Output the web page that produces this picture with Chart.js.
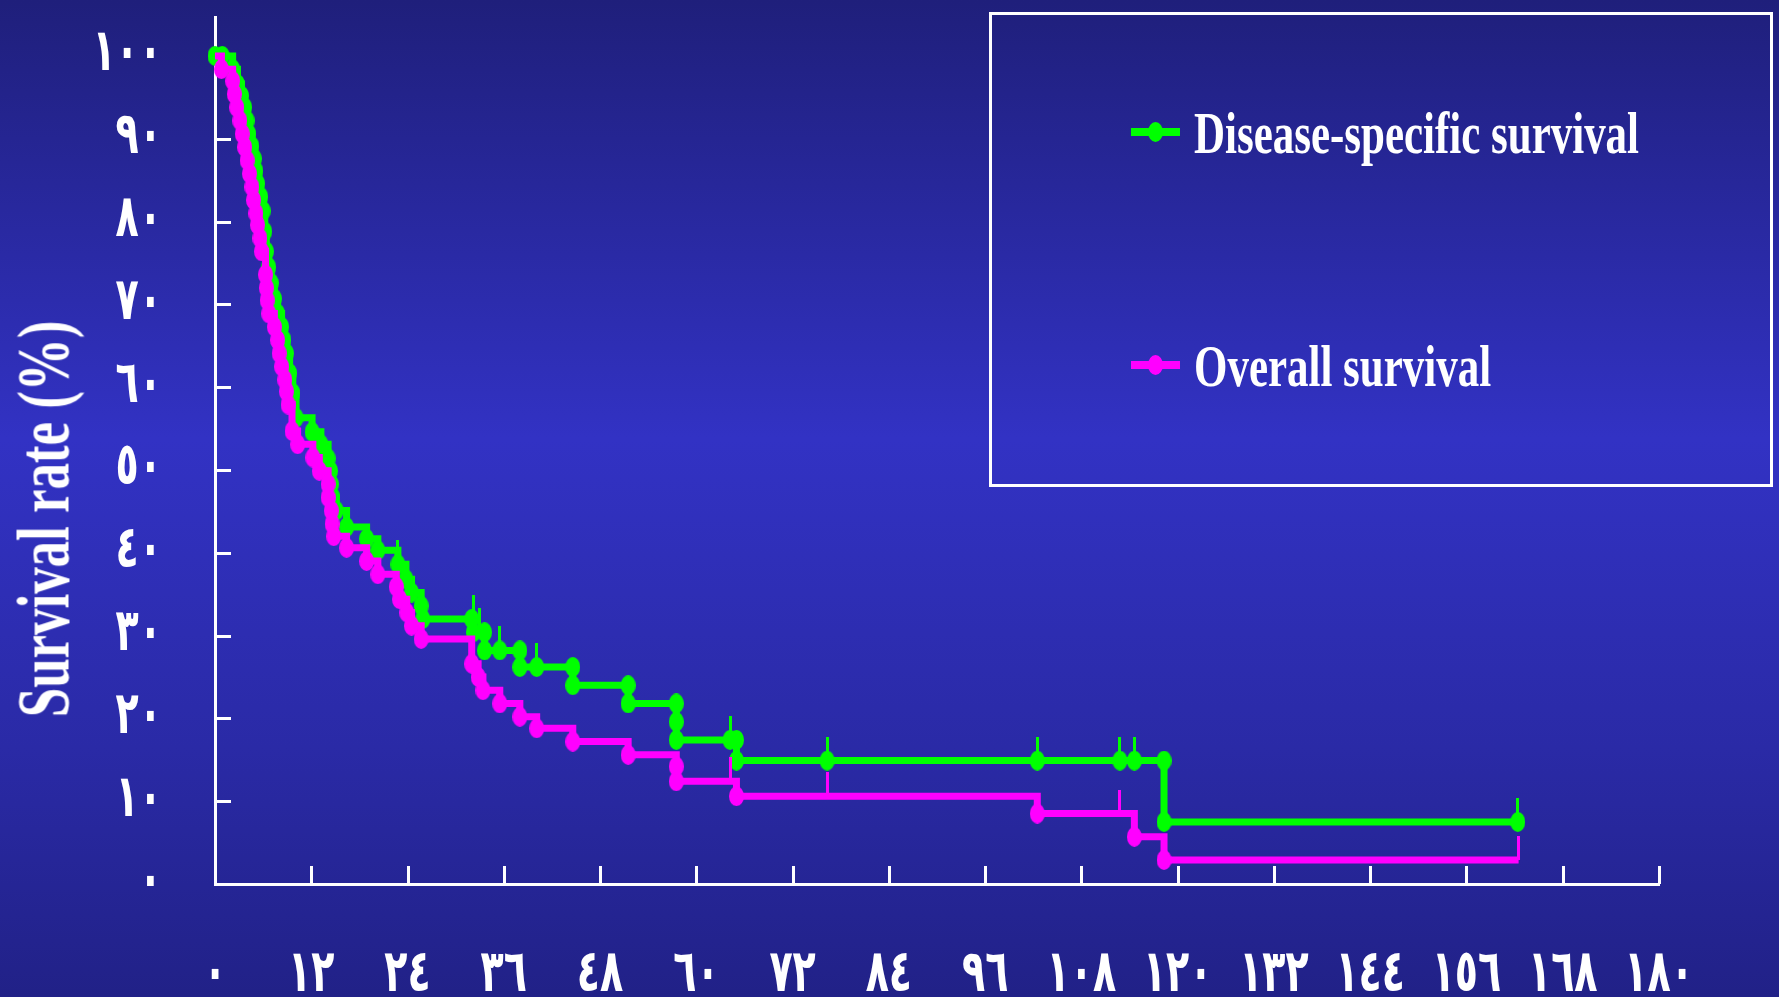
<!DOCTYPE html>
<html lang="en">

<head>
    <meta charset="UTF-8">
    <meta name="viewport" content="width=device-width, initial-scale=1.0">
    <title>Survival rate</title>
    <script src="https://cdn.jsdelivr.net/npm/chart.js"></script>

    <style>
        body {
            margin: 0;
            overflow: hidden;
        }

        .slide {
            position: relative;
            width: 1779px;
            height: 997px;
            background: linear-gradient(to bottom, #1f1f7b 0%, #3232c4 44%, #2a2aa6 75%, #212187 100%);
            font-family: 'Liberation Serif', serif;
            color: white;
        }

        #myCanvas {
            position: absolute;
            left: 0;
            top: 0;
        }

        .titulo-y {
            position: absolute;
            left: 43px;
            top: 519px;
            font-size: 75px;
            line-height: 75px;
            font-weight: bold;
            white-space: nowrap;
            transform: translate(-50%, -50%) rotate(-90deg) scaleX(0.705);
        }

        .legenda-box {
            position: absolute;
            left: 989px;
            top: 12px;
            width: 784px;
            height: 475px;
            border: 3px solid white;
            box-sizing: border-box;
        }

        .legenda-linha {
            position: absolute;
            left: 1131px;
            width: 49px;
            height: 8px;
        }

        .legenda-ponto {
            position: absolute;
            left: 1148px;
            width: 15px;
            height: 20px;
            border-radius: 50%;
        }

        .legenda-texto {
            position: absolute;
            left: 1194px;
            font-size: 60px;
            line-height: 60px;
            font-weight: bold;
            white-space: nowrap;
            transform: scaleX(0.716);
            transform-origin: left center;
        }
    </style>
</head>

<body>
    <div class="slide" id="slide">
        <canvas id="myCanvas" width="1779" height="997"></canvas>
        <div class="titulo-y">Survival rate (%)</div>
        <div class="legenda-box"></div>
    </div>

    <script>
        // eixos (meses / %), rótulos em algarismos arábicos-índicos
        const monthTicks = [0, 12, 24, 36, 48, 60, 72, 84, 96, 108, 120, 132, 144, 156, 168, 180];
        const monthLabels = ["٠", "١٢", "٢٤", "٣٦", "٤٨", "٦٠", "٧٢", "٨٤", "٩٦", "١٠٨", "١٢٠", "١٣٢", "١٤٤", "١٥٦", "١٦٨", "١٨٠"];
        const rateTicks = [0, 10, 20, 30, 40, 50, 60, 70, 80, 90, 100];
        const rateLabels = ["٠", "١٠", "٢٠", "٣٠", "٤٠", "٥٠", "٦٠", "٧٠", "٨٠", "٩٠", "١٠٠"];

        const seriesNames = ["Disease-specific survival", "Overall survival"];

        // Disease-specific survival
        const dssMonths = [0, 0.9, 2.2, 2.8, 3.3, 3.7, 4.0, 4.2, 4.6, 4.9, 5.1, 5.3, 5.7, 6.0, 6.2, 6.4, 6.7, 7.0, 7.4, 7.8,
            8.3, 8.6, 8.9, 9.3, 9.7, 10.1, 12.1, 13.2, 14.1, 14.4, 14.5, 14.7, 15.1, 16.4, 18.9, 20.3, 22.8, 23.8, 24.5, 25.7,
            25.9, 32.0, 32.2, 33.6, 33.6, 35.5, 38.0, 38.0, 40.1, 44.6, 44.6, 51.5, 51.5, 57.5, 57.5, 57.5, 64.2, 65.0, 65.0, 76.3,
            102.5, 112.8, 114.6, 118.3, 118.3, 162.4];
        const dssRate = [100, 100, 98.4, 96.6, 95.2, 93.8, 92.2, 90.6, 89.1, 87.6, 86.1, 84.6, 83.0, 81.3, 78.8, 76.4, 74.5, 72.6, 70.7, 68.9,
            67.3, 65.7, 64.1, 61.7, 59.3, 56.3, 54.6, 53.1, 51.4, 49.9, 48.3, 46.7, 45.1, 43.1, 41.7, 40.3, 38.6, 36.8, 35.2, 33.6,
            32.0, 32.0, 30.4, 30.4, 28.2, 28.2, 28.2, 26.2, 26.2, 26.2, 24.0, 24.0, 21.8, 21.8, 19.6, 17.4, 17.4, 17.4, 14.9, 14.9,
            14.9, 14.9, 14.9, 14.9, 7.5, 7.5];
        const dssCensorMonths = [22.8, 32.2, 33.0, 35.5, 40.1, 64.2, 76.3, 102.5, 112.8, 114.6, 162.4];
        const dssCensorRate = [38.6, 32.0, 30.4, 28.2, 26.2, 17.4, 14.9, 14.9, 14.9, 14.9, 7.5];

        // Overall survival
        const osMonths = [0, 0.8, 2.2, 2.4, 2.7, 3.1, 3.4, 3.7, 4.0, 4.3, 4.6, 4.8, 5.1, 5.3, 5.6, 5.8, 6.3, 6.4, 6.5, 6.7,
            7.4, 7.8, 8.0, 8.3, 8.7, 8.9, 9.1, 9.6, 10.3, 12.2, 13.0, 14.1, 14.1, 14.5, 14.6, 14.8, 16.4, 18.9, 20.3, 22.6,
            23.0, 23.9, 24.5, 25.7, 32.0, 32.8, 33.4, 35.5, 38.0, 40.1, 44.6, 51.5, 57.5, 57.5, 65.0, 102.5, 114.6, 118.3, 162.5];
        const osRate = [100, 98.4, 97.0, 95.4, 93.8, 92.2, 90.6, 89.0, 87.4, 85.8, 84.2, 82.6, 81.0, 79.6, 78.0, 76.4, 73.6, 72.0, 70.5, 68.9,
            67.3, 65.7, 64.1, 62.5, 60.9, 59.5, 57.9, 54.7, 53.1, 51.5, 49.9, 48.3, 46.7, 45.1, 43.5, 42.0, 40.6, 39.0, 37.4, 35.9,
            34.4, 32.8, 31.2, 29.6, 26.6, 25.0, 23.4, 21.8, 20.2, 18.8, 17.2, 15.6, 14.2, 12.4, 10.6, 8.5, 5.7, 2.9, 2.9];
        const osCensorMonths = [64.2, 76.3, 112.8, 162.5];
        const osCensorRate = [12.4, 10.6, 8.5, 2.9];

        const verde = "#00ff00";
        const magenta = "#ff00ff";

        let myChart;

        function pares(xs, ys) {
            return xs.map(function (x, i) {
                return { x: x, y: ys[i] };
            });
        }

        // marcador elíptico (mais alto que largo, como no slide)
        function pontoElipse(cor) {
            const c = document.createElement("canvas");
            c.width = 15;
            c.height = 20;
            const g = c.getContext("2d");
            g.fillStyle = cor;
            g.beginPath();
            g.ellipse(7.5, 10, 7.5, 10, 0, 0, 2 * Math.PI);
            g.fill();
            return c;
        }

        // traço de censura: só a metade de cima
        function marcaCensura(cor) {
            const c = document.createElement("canvas");
            c.width = 3;
            c.height = 48;
            const g = c.getContext("2d");
            g.fillStyle = cor;
            g.fillRect(0, 0, 3, 24);
            return c;
        }

        // tracinhos para dentro nos eixos
        const ticksInternos = {
            id: "ticksInternos",
            beforeDatasetsDraw(chart) {
                const ctx = chart.ctx;
                const area = chart.chartArea;
                ctx.save();
                ctx.strokeStyle = "white";
                ctx.lineWidth = 3;
                ctx.beginPath();
                chart.scales.y.ticks.forEach(function (t) {
                    if (t.value === 0) return;
                    const y = Math.round(chart.scales.y.getPixelForValue(t.value)) + 0.5;
                    ctx.moveTo(area.left, y);
                    ctx.lineTo(area.left + 16, y);
                });
                chart.scales.x.ticks.forEach(function (t) {
                    if (t.value === 0) return;
                    const x = Math.round(chart.scales.x.getPixelForValue(t.value)) + 0.5;
                    ctx.moveTo(x, area.bottom);
                    ctx.lineTo(x, area.bottom - 18);
                });
                ctx.stroke();
                ctx.restore();
            }
        };

        // rótulos dos ticks: algarismos altos e estreitos como no slide
        const rotulosEixos = {
            id: "rotulosEixos",
            afterDraw(chart) {
                const ctx = chart.ctx;
                const area = chart.chartArea;
                const esticar = 1.55;
                ctx.save();
                ctx.fillStyle = "white";
                ctx.font = "bold 38px 'DejaVu Sans'";
                const m = ctx.measureText("١");
                const meio = (m.actualBoundingBoxAscent - m.actualBoundingBoxDescent) / 2;

                ctx.textAlign = "right";
                chart.scales.y.ticks.forEach(function (t, i) {
                    const y = chart.scales.y.getPixelForValue(t.value) - 5;
                    ctx.save();
                    ctx.translate(area.left - 53, y);
                    ctx.scale(1, esticar);
                    ctx.fillText(t.label || rateLabels[i], 0, meio);
                    ctx.restore();
                });

                ctx.textAlign = "center";
                chart.scales.x.ticks.forEach(function (t, i) {
                    const x = chart.scales.x.getPixelForValue(t.value);
                    ctx.save();
                    ctx.translate(x, area.bottom + 88);
                    ctx.scale(1, esticar);
                    ctx.fillText(t.label || monthLabels[i], 0, meio);
                    ctx.restore();
                });
                ctx.restore();
            }
        };

        function plotarGrafico() {
            const dados = {
                datasets: [
                    {
                        label: seriesNames[0],
                        data: pares(dssMonths, dssRate),
                        borderColor: verde,
                        backgroundColor: verde,
                        borderWidth: 7,
                        stepped: "before",
                        borderJoinStyle: "miter",
                        pointStyle: pontoElipse(verde),
                        pointRadius: 10,
                        order: 2,
                    },
                    {
                        label: seriesNames[1],
                        data: pares(osMonths, osRate),
                        borderColor: magenta,
                        backgroundColor: magenta,
                        borderWidth: 7,
                        stepped: "before",
                        borderJoinStyle: "miter",
                        pointStyle: pontoElipse(magenta),
                        pointRadius: function (context) {
                            const i = context.dataIndex;
                            return (i === 0 || i === osMonths.length - 1) ? 0 : 10;
                        },
                        order: 1,
                    },
                    {
                        data: pares(dssCensorMonths, dssCensorRate),
                        showLine: false,
                        pointStyle: marcaCensura(verde),
                        pointRadius: 10,
                        order: 0,
                    },
                    {
                        data: pares(osCensorMonths, osCensorRate),
                        showLine: false,
                        pointStyle: marcaCensura(magenta),
                        pointRadius: 10,
                        order: 0,
                    },
                ],
            };

            const config = {
                type: "line",
                data: dados,
                options: {
                    responsive: false,
                    devicePixelRatio: 1,
                    animation: false,
                    events: [],
                    clip: false,
                    layout: {
                        padding: { top: 9, right: 120, left: 0, bottom: 0 },
                    },
                    scales: {
                        x: {
                            type: "linear",
                            min: 0,
                            max: 180,
                            afterBuildTicks: function (axis) {
                                axis.ticks = monthTicks.map(function (v) { return { value: v }; });
                            },
                            afterFit: function (axis) {
                                axis.height = 113;
                                axis.paddingLeft = 0;
                                axis.paddingRight = 0;
                            },
                            grid: { display: false, drawTicks: false },
                            border: { display: true, color: "white", width: 3 },
                            ticks: {
                                display: false,
                                autoSkip: false,
                                callback: function (value, index) {
                                    return monthLabels[index];
                                },
                            },
                        },
                        y: {
                            min: 0,
                            max: 104.7,
                            afterBuildTicks: function (axis) {
                                axis.ticks = rateTicks.map(function (v) { return { value: v }; });
                            },
                            afterFit: function (axis) {
                                axis.width = 215;
                                axis.paddingTop = 0;
                                axis.paddingBottom = 0;
                            },
                            grid: { display: false, drawTicks: false },
                            border: { display: true, color: "white", width: 3 },
                            ticks: {
                                display: false,
                                autoSkip: false,
                                callback: function (value, index) {
                                    return rateLabels[index];
                                },
                            },
                        },
                    },
                    plugins: {
                        legend: { display: false },
                        tooltip: { enabled: false },
                    },
                },
                plugins: [ticksInternos, rotulosEixos],
            };

            myChart = new Chart(document.getElementById("myCanvas"), config);
            montarLegenda();
        }

        // legenda em HTML, a partir dos datasets do gráfico
        function montarLegenda() {
            const slide = document.getElementById("slide");
            const centros = [132, 365];
            myChart.data.datasets.forEach(function (ds, i) {
                if (!ds.label) return;
                const cy = centros[i];

                const linha = document.createElement("div");
                linha.className = "legenda-linha";
                linha.style.top = (cy - 4) + "px";
                linha.style.background = ds.borderColor;
                slide.appendChild(linha);

                const ponto = document.createElement("div");
                ponto.className = "legenda-ponto";
                ponto.style.top = (cy - 10) + "px";
                ponto.style.background = ds.borderColor;
                slide.appendChild(ponto);

                const texto = document.createElement("div");
                texto.className = "legenda-texto";
                texto.style.top = (cy - 29) + "px";
                texto.textContent = ds.label;
                slide.appendChild(texto);
            });
        }

        plotarGrafico();
    </script>
</body>

</html>
